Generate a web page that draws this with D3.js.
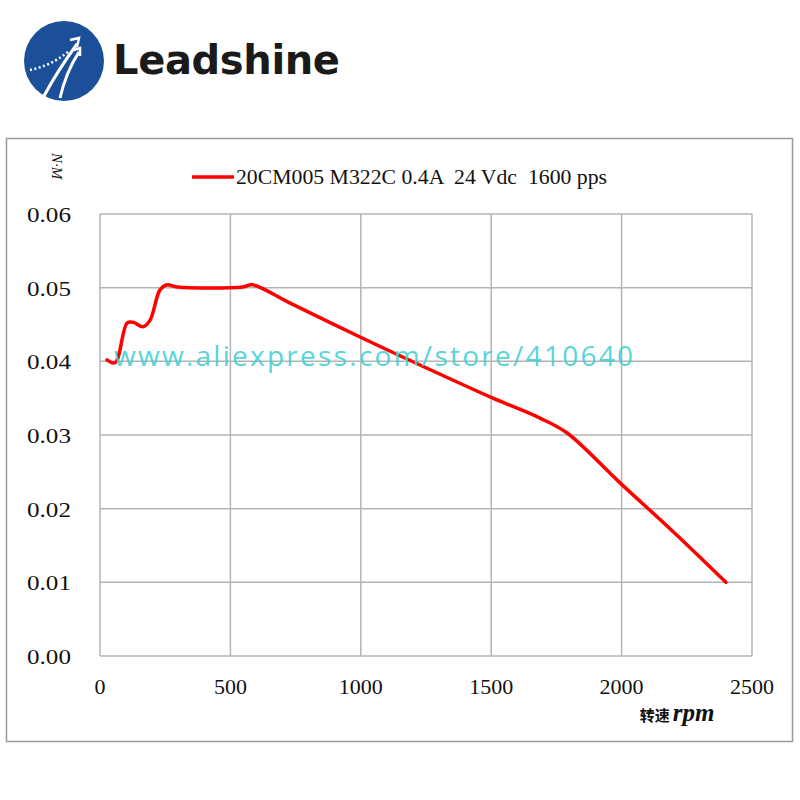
<!DOCTYPE html>
<html><head><meta charset="utf-8">
<script src="https://cdn.jsdelivr.net/npm/d3@7"></script>
<style>body{margin:0;background:#fff}svg{display:block}</style>
</head><body>
<svg id="c" width="800" height="800"></svg>
<script>
const speedRpm = [27, 58, 104, 127, 165, 192, 230, 257, 295, 548, 583, 729, 997, 1227, 1500, 1687, 1790, 1994, 2200, 2400];
const torqueNm = [0.0402, 0.0398, 0.0452, 0.0453, 0.0447, 0.0456, 0.0497, 0.0504, 0.0501, 0.0501, 0.0504, 0.0479, 0.0433, 0.0395, 0.0351, 0.0323, 0.0303, 0.0235, 0.0168, 0.0100];
const xTicks = [0, 500, 1000, 1500, 2000, 2500];
const yTicks = [0, 0.01, 0.02, 0.03, 0.04, 0.05, 0.06];
const seriesName = "20CM005 M322C 0.4A  24 Vdc  1600 pps";
const yLabel = "N·M";
const xLabelCn = "转速";
const xLabelUnit = "rpm";
const watermark = "www.aliexpress.com/store/410640";
const brand = "Leadshine";

const svg = d3.select("#c");
const x = d3.scaleLinear().domain([0, 2500]).range([100, 752]);
const y = d3.scaleLinear().domain([0, 0.06]).range([656, 214]);
const grid = "#b4b4b4";

// logo
const logo = svg.append("g");
logo.append("circle").attr("cx", 64).attr("cy", 61).attr("r", 40).attr("fill", "#1c4f9a");
logo.append("path").attr("d", "M44 96 Q58 70 77 44").attr("stroke", "#fff").attr("stroke-width", 3).attr("fill", "none");
logo.append("path").attr("d", "M60 98 Q66 72 79 52").attr("stroke", "#fff").attr("stroke-width", 3).attr("fill", "none");
logo.append("path").attr("d", "M70 40 L79 38 L77 47").attr("stroke", "#fff").attr("stroke-width", 2.5).attr("fill", "none");
logo.append("path").attr("d", "M74 50 L80 48 L80 56").attr("stroke", "#fff").attr("stroke-width", 2.5).attr("fill", "none");
logo.append("path").attr("d", "M30 70 Q50 66 68 52").attr("stroke", "#fff").attr("stroke-width", 2.5).attr("stroke-dasharray", "2 2.5").attr("fill", "none");
svg.append("text").attr("x", 113).attr("y", 74).attr("font-family", "DejaVu Sans").attr("font-weight", "bold")
  .attr("font-size", 40).attr("letter-spacing", 1).attr("fill", "#1a1a1a").attr("textLength", 228).text(brand);

// outer frame
svg.append("rect").attr("x", 6.5).attr("y", 138.5).attr("width", 786).attr("height", 603)
  .attr("fill", "#fff").attr("stroke", "#9a9a9a").attr("stroke-width", 1.5);

// grid
const g = svg.append("g");
g.selectAll("line.h").data(yTicks).join("line").attr("class", "h")
  .attr("x1", x(0)).attr("x2", x(2500)).attr("y1", d => y(d)).attr("y2", d => y(d))
  .attr("stroke", grid).attr("stroke-width", 1.5);
g.selectAll("line.v").data(xTicks).join("line").attr("class", "v")
  .attr("x1", d => x(d)).attr("x2", d => x(d)).attr("y1", y(0)).attr("y2", y(0.06))
  .attr("stroke", grid).attr("stroke-width", 1.5);

// axes labels
const serif = "Liberation Serif, Times New Roman, serif";
svg.selectAll("text.yt").data(yTicks).join("text").attr("class", "yt")
  .attr("x", 71).attr("y", d => y(d) + 8).attr("text-anchor", "end")
  .attr("font-family", serif).attr("font-size", 22).attr("fill", "#111")
  .attr("textLength", 44).attr("lengthAdjust", "spacingAndGlyphs")
  .text(d => d3.format(".2f")(d));
svg.selectAll("text.xt").data(xTicks).join("text").attr("class", "xt")
  .attr("x", d => x(d)).attr("y", 694).attr("text-anchor", "middle")
  .attr("font-family", serif).attr("font-size", 22).attr("fill", "#111")
  .text(d => d);

svg.append("text").attr("transform", "translate(52,166) rotate(90)").attr("text-anchor", "middle")
  .attr("font-family", serif).attr("font-style", "italic").attr("font-size", 15).attr("fill", "#111").text(yLabel);

const xl = svg.append("text").attr("x", 677).attr("y", 721).attr("text-anchor", "middle").attr("fill", "#111");
xl.append("tspan").attr("font-family", "Noto Sans CJK SC").attr("font-weight", "bold").attr("font-size", 15).text(xLabelCn);
xl.append("tspan").attr("font-family", serif).attr("font-weight", "bold").attr("font-style", "italic").attr("font-size", 25).attr("dx", 3).text(xLabelUnit);

// legend
svg.append("line").attr("x1", 192).attr("x2", 234).attr("y1", 177).attr("y2", 177).attr("stroke", "#f00").attr("stroke-width", 3.5);
svg.append("text").attr("x", 236).attr("y", 184).attr("font-family", serif).attr("font-size", 20).attr("fill", "#111")
  .attr("textLength", 371).attr("lengthAdjust", "spacingAndGlyphs").style("white-space", "pre").text(seriesName);

// curve
const pts = speedRpm.map((s, i) => [s, torqueNm[i]]);
svg.append("path").datum(pts)
  .attr("d", d3.line().x(d => x(d[0])).y(d => y(d[1])).curve(d3.curveCatmullRom.alpha(0.5)))
  .attr("fill", "none").attr("stroke", "#f00").attr("stroke-width", 3.5).attr("stroke-linejoin", "round").attr("stroke-linecap", "round");

// watermark
svg.append("text").attr("x", 114).attr("y", 366).attr("font-family", "Open Sans, Noto Sans, sans-serif").attr("font-size", 28)
  .attr("fill", "#3fd0d4").attr("fill-opacity", 0.9).attr("textLength", 519).text(watermark);
</script>
</body></html>
